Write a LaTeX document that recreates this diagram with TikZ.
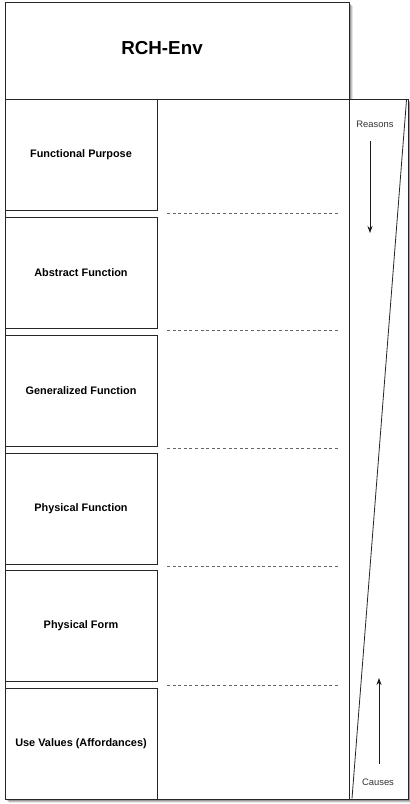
\documentclass[tikz,border=0pt]{standalone}
\usepackage{fontspec}
\setmainfont{Liberation Sans}
\usetikzlibrary{arrows.meta}
\begin{document}
\begin{tikzpicture}[x=1pt,y=-1pt,
  frame/.style={draw=black!85, line width=0.9pt, fill=white},
  header/.style={draw=black!85, line width=0.9pt, minimum width=344pt, minimum height=97pt, anchor=north west, inner sep=0pt, outer sep=0pt},
  level/.style={draw=black!85, line width=0.8pt, fill=white, minimum width=152pt, minimum height=111pt, anchor=north west, inner sep=0pt, outer sep=0pt, font=\bfseries\fontsize{10.9}{12}\selectfont},
  side/.style={draw=black!85, line width=0.9pt, fill=white, minimum width=59pt, minimum height=700pt, anchor=north west, inner sep=0pt, outer sep=0pt},
  sep/.style={draw=black!60, dash pattern=on 3pt off 2.6pt, line width=0.6pt},
  flow/.style={-{Stealth[length=7pt,width=5pt]}, line width=0.8pt, draw=black!90},
  lbl/.style={font=\fontsize{9.4}{11}\selectfont, text=black!80},
  titletext/.style={font=\bfseries\fontsize{18.8}{22}\selectfont}]
\useasboundingbox (0,0) rectangle (410,804);
% soft shadows
\foreach \o/\op in {3.5/0.10,2.5/0.15,1.5/0.22}{
  \fill[black, opacity=\op] (5+\o,2+\o) rectangle (349+\o,799+\o);
  \fill[black, opacity=\op] (349+\o,99+\o) rectangle (408+\o,799+\o);
}
% main frame
\node[frame, minimum width=344pt, minimum height=797pt, anchor=north west, inner sep=0pt, outer sep=0pt] (main) at (5,2) {};
\node[header] (head) at (5,2) {};
\node[titletext] (title) at (162,48.5) {RCH-Env};
% levels
\node[level] (l1) at (5,99) {Functional Purpose};
\node[level] (l2) at (5,217) {Abstract Function};
\node[level] (l3) at (5,335) {Generalized Function};
\node[level] (l4) at (5,453) {Physical Function};
\node[level] (l5) at (5,570) {Physical Form};
\node[level] (l6) at (5,688) {Use Values (Affordances)};
% dashed separators
\foreach \y in {213,330,448,566,685}{
  \draw[sep] (167,\y) -- (340,\y);
}
% side column
\node[side] (side) at (349,99) {};
\draw[draw=black!85, line width=0.8pt] (406.5,100) -- (352,798.5);
\node[lbl] (reasons) at (375,124) {Reasons};
\node[lbl] (causes) at (378,782) {Causes};
\coordinate (rtop) at (370,141);
\coordinate (rbot) at (370,233);
\coordinate (cbot) at (379,764);
\coordinate (ctop) at (379,678);
\draw[flow] (rtop) -- (rbot);
\draw[flow] (cbot) -- (ctop);
\end{tikzpicture}
\end{document}
